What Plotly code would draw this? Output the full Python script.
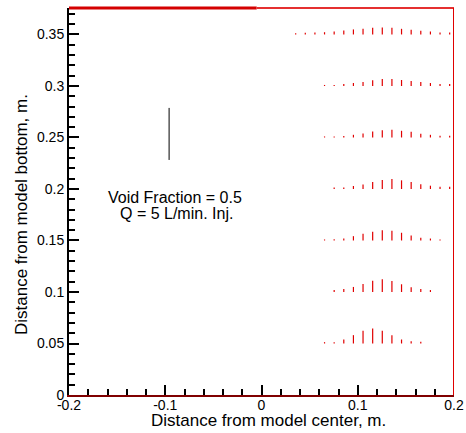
import plotly.graph_objects as go

# ---- data ----
x_grid = [0.0355 + 0.01 * k for k in range(17)]  # probe x positions (m)
row_heights = [0.05, 0.10, 0.15, 0.20, 0.25, 0.30, 0.35]  # probe rows (m)

# vertical velocity vectors (length in mm of plot units), starting index in x_grid
row_start = {0.05: 3, 0.10: 4, 0.15: 3, 0.20: 4, 0.25: 3, 0.30: 3, 0.35: 0}
row_w = {
    0.05: [1.3, 1.3, 3.9, 8.1, 12.3, 14.6, 12.3, 8.1, 3.9, 2.2, 1.7],
    0.10: [1.9, 2.9, 4.9, 7.8, 11.0, 12.3, 10.7, 7.5, 4.6, 2.9, 1.9],
    0.15: [1.0, 1.3, 1.9, 4.2, 6.5, 8.4, 10.0, 9.4, 7.5, 4.9, 2.6, 1.9, 1.0],
    0.20: [1.5, 1.5, 2.9, 4.4, 6.8, 8.7, 9.7, 8.4, 6.8, 4.6, 3.2, 2.2, 2.2],
    0.25: [1.0, 1.0, 1.5, 2.6, 3.9, 5.8, 7.1, 7.5, 6.5, 5.5, 3.6, 2.6, 1.7, 1.7],
    0.30: [1.0, 1.0, 1.9, 2.9, 3.9, 5.5, 6.8, 6.8, 5.8, 4.9, 3.9, 2.9, 1.9, 1.9],
    0.35: [1.3, 1.6, 1.9, 2.2, 2.9, 3.9, 4.9, 5.5, 6.5, 6.8, 6.5, 5.5, 4.6, 3.6, 2.9, 1.9, 1.9],
}
vec_scale = 0.001  # plot units per mm

ref_x = -0.096
ref_y = 0.2282
ref_len = 50.5  # mm

x_tickvals = [-0.2, -0.1, 0, 0.1, 0.2]
x_ticktext = ["-0.2", "-0.1", "0", "0.1", "0.2"]
y_tickvals = [0, 0.05, 0.1, 0.15, 0.2, 0.25, 0.3, 0.35]
y_ticktext = ["0", "0.05", "0.1", "0.15", "0.2", "0.25", "0.3", "0.35"]

FONT = "Liberation Sans, Arial, sans-serif"

fig = go.Figure()

# vectors
vx, vy = [], []
for yr in row_heights:
    s = row_start[yr]
    for i, w in enumerate(row_w[yr]):
        xx = x_grid[s + i]
        vx += [xx, xx, None]
        vy += [yr, yr + w * vec_scale, None]
fig.add_trace(go.Scatter(x=vx, y=vy, mode="lines", line=dict(color="#e00000", width=1.2),
                         hoverinfo="skip", showlegend=False))

# reference vector
fig.add_trace(go.Scatter(x=[ref_x, ref_x], y=[ref_y, ref_y + ref_len * vec_scale], mode="lines",
                         line=dict(color="black", width=1), hoverinfo="skip", showlegend=False))

fig.add_annotation(x=-0.0899, y=0.1922, text="Void Fraction = 0.5", showarrow=False,
                   font=dict(family=FONT, size=16, color="black"))
fig.add_annotation(x=-0.0881, y=0.1764, text="Q = 5 L/min. Inj.", showarrow=False,
                   font=dict(family=FONT, size=16, color="black"))

# axis titles
fig.add_annotation(xref="paper", yref="paper", x=0.518, y=-0.067, text="Distance from model center, m.",
                   showarrow=False, font=dict(family=FONT, size=17, color="black"),
                   xanchor="center", yanchor="middle")
fig.add_annotation(xref="paper", yref="paper", x=-0.1247, y=0.4677, text="Distance from model bottom, m.",
                   showarrow=False, textangle=-90, font=dict(family=FONT, size=17, color="black"),
                   xanchor="center", yanchor="middle")

# red frame
fig.add_shape(type="line", xref="x", yref="paper", x0=-0.2, x1=-0.005, y0=1, y1=1,
              line=dict(color="#d40000", width=3))
fig.add_shape(type="line", xref="x", yref="paper", x0=-0.005, x1=0.2, y0=1, y1=1,
              line=dict(color="#e53030", width=2))
fig.add_shape(type="line", xref="x", yref="paper", x0=0.2, x1=0.2, y0=0, y1=1,
              line=dict(color="#e00000", width=2))

fig.update_layout(
    width=466, height=433,
    margin=dict(l=69, r=12, t=8, b=38, autoexpand=False),
    paper_bgcolor="white", plot_bgcolor="white",
    font=dict(family=FONT, size=14, color="black"),
    xaxis=dict(range=[-0.2, 0.2], tickvals=x_tickvals, ticktext=x_ticktext, automargin=False,
               ticks="inside", ticklen=10, tickwidth=2, tickcolor="black", ticklabelstandoff=-4,
               showline=True, linecolor="#800000", linewidth=2, showgrid=False, zeroline=False,
               minor=dict(ticks="inside", ticklen=6, tickwidth=1.5, tickcolor="black", dtick=0.02,
                          showgrid=False),
               tickfont=dict(size=14)),
    yaxis=dict(range=[0, 0.3757], tickvals=y_tickvals, ticktext=y_ticktext, automargin=False,
               ticks="inside", ticklen=10, tickwidth=2, tickcolor="black",
               showline=True, linecolor="black", linewidth=2, showgrid=False, zeroline=False,
               minor=dict(ticks="inside", ticklen=6, tickwidth=1.5, tickcolor="black", dtick=0.01,
                          tick0=0, showgrid=False),
               tickfont=dict(size=14)),
)

fig.write_html("out.html")
